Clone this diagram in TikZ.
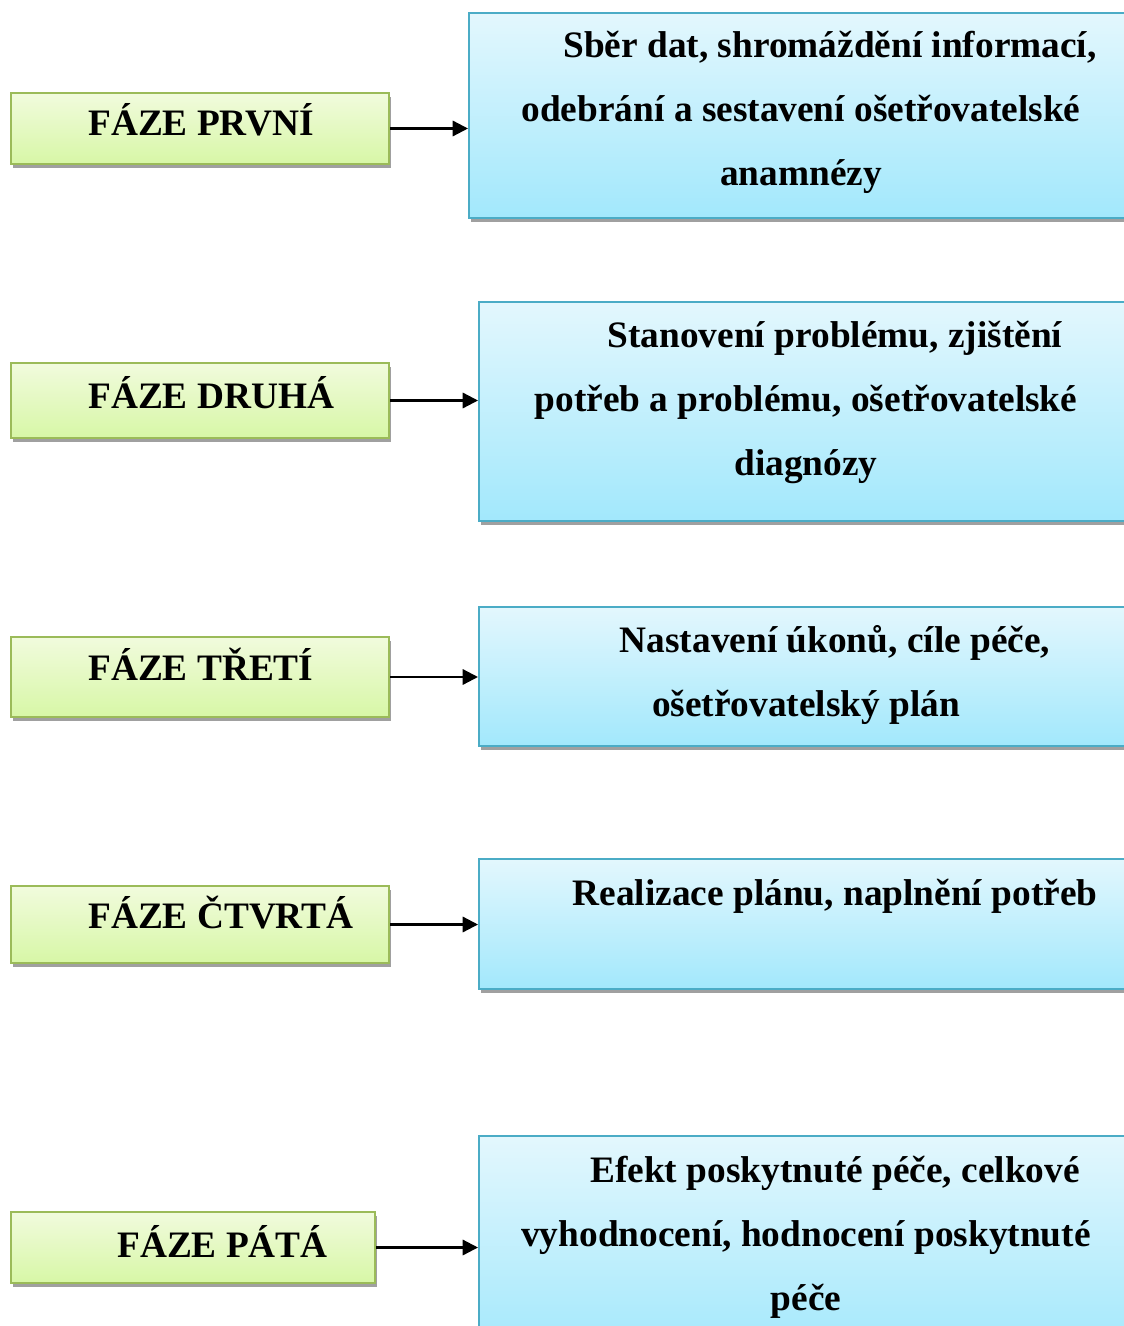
\documentclass[tikz,border=0pt]{standalone}
\usepackage{fontspec}
\newfontfamily\tnr{Liberation Serif}
\usetikzlibrary{arrows.meta,shadows}
\definecolor{gtop}{HTML}{F1FBDD}
\definecolor{gbot}{HTML}{D7F7A6}
\definecolor{gline}{HTML}{9BBB59}
\definecolor{btop}{HTML}{E3F7FD}
\definecolor{bbot}{HTML}{A2E8FC}
\definecolor{bline}{HTML}{4BACC6}
\definecolor{shad}{HTML}{A0A0A0}
\tikzset{
  phase/.style={draw=gline, line width=1.5pt, top color=gtop, bottom color=gbot,
    inner sep=0pt, anchor=north west, minimum width=283.5pt,
    drop shadow={shadow xshift=1.5pt, shadow yshift=-3pt, fill=shad, opacity=1}},
  descr/.style={draw=bline, line width=1.5pt, top color=btop, bottom color=bbot,
    inner sep=0pt, anchor=north west, minimum width=492.75pt,
    drop shadow={shadow xshift=1.5pt, shadow yshift=-3pt, fill=shad, opacity=1}},
  ptext/.style={anchor=base west, inner sep=0pt, font=\tnr\bfseries\fontsize{28}{32}\selectfont},
  dtext/.style={anchor=north, inner sep=0pt, yshift=27pt, align=center,
    font=\tnr\bfseries\fontsize{28}{48}\selectfont},
  conn/.style={line width=1.7pt, -{Triangle[length=11.5pt,width=11.5pt]}}
}
\newcommand{\fl}{\rule{0pt}{27pt}\hspace*{43.5pt}}
\begin{document}
\begin{tikzpicture}[x=0.75pt,y=-0.75pt]
\useasboundingbox (0,0) rectangle (1123,1326);
% phases
\node[phase, minimum height=53.25pt] (g1) at (10,92) {};
\node[phase, minimum height=56.25pt] (g2) at (10,362) {};
\node[phase, minimum height=60pt] (g3) at (10,636) {};
\node[phase, minimum height=57.75pt] (g4) at (10,885) {};
\node[phase, minimum height=53.25pt, minimum width=273pt] (g5) at (10,1211) {};
\node[ptext] (t1) at (88,136) {FÁZE PRVNÍ};
\node[ptext] (t2) at (88,408) {FÁZE DRUHÁ};
\node[ptext] (t3) at (88,680) {FÁZE TŘETÍ};
\node[ptext] (t4) at (88,928) {FÁZE ČTVRTÁ};
\node[ptext] (t5) at (117,1257) {FÁZE PÁTÁ};
% descriptions
\node[descr, minimum height=153.75pt, minimum width=500.25pt] (b1) at (468,12) {};
\node[descr, minimum height=164.25pt] (b2) at (478,301) {};
\node[descr, minimum height=104.25pt] (b3) at (478,606) {};
\node[descr, minimum height=97.5pt] (b4) at (478,858) {};
\node[descr, minimum height=165pt] (b5) at (478,1135) {};
\node[dtext] (d1) at (801,57) {\fl Sběr dat, shromáždění informací,\\odebrání a sestavení ošetřovatelské\\anamnézy};
\node[dtext] (d2) at (806,347) {\fl Stanovení problému, zjištění\\potřeb a problému, ošetřovatelské\\diagnózy};
\node[dtext] (d3) at (806,652) {\fl Nastavení úkonů, cíle péče,\\ošetřovatelský plán};
\node[dtext] (d4) at (806,905) {\fl Realizace plánu, naplnění potřeb};
\node[dtext] (d5) at (806,1182) {\fl Efekt poskytnuté péče, celkové\\vyhodnocení, hodnocení poskytnuté\\péče};
% connectors
\draw[conn] (g1.east) -- (g1.east -| b1.west);
\draw[conn] (g2.east) -- (g2.east -| b2.west);
\draw[conn] (g3.east) -- (g3.east -| b3.west);
\draw[conn] (g4.east) -- (g4.east -| b4.west);
\draw[conn] (g5.east) -- (g5.east -| b5.west);
\end{tikzpicture}
\end{document}
